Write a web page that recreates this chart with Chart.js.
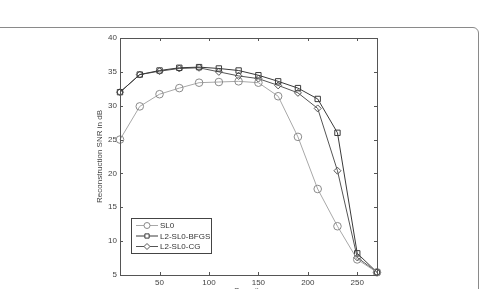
<!DOCTYPE html>
<html>
<head>
<meta charset="utf-8">
<script src="https://cdn.jsdelivr.net/npm/chart.js@4"></script>
<style>
  html, body { margin: 0; padding: 0; background: #fff; overflow: hidden; }
  #wrap { position: relative; width: 481px; height: 289px; overflow: hidden; }
  #card { position: absolute; left: -6px; top: 27px; width: 485px; height: 320px;
          border: 1px solid #8a8a8a; border-radius: 6px; box-sizing: border-box; }
  canvas { position: absolute; left: 0; top: 0; }
</style>
</head>
<body>
<div id="wrap">
  <div id="card"></div>
  <canvas id="chart-area" width="481" height="296"></canvas>
</div>
<script>
// measurement sizes (x axis)
var xValues = [10, 30, 50, 70, 90, 110, 130, 150, 170, 190, 210, 230, 250, 270];
var sl0 =  [25.0, 29.9, 31.7, 32.6, 33.4, 33.5, 33.6, 33.4, 31.4, 25.4, 17.7, 12.2, 7.3, 5.4];
var bfgs = [32.0, 34.6, 35.2, 35.6, 35.7, 35.5, 35.2, 34.5, 33.6, 32.6, 31.0, 26.0, 8.2, 5.4];
var cg =   [32.0, 34.6, 35.1, 35.5, 35.6, 35.0, 34.4, 34.0, 33.0, 31.9, 29.6, 20.4, 7.6, 5.4];
var seriesNames = ['SL0', 'L2-SL0-BFGS', 'L2-SL0-CG'];
var xTicks = [50, 100, 150, 200, 250];
var yTicks = [5, 10, 15, 20, 25, 30, 35, 40];

function pts(ys) {
  return xValues.map(function (x, i) { return { x: x, y: ys[i] }; });
}

var fontFam = '"Liberation Sans", Arial, sans-serif';

// box, inward ticks and the legend inside the plot
var boxPlugin = {
  id: 'boxPlugin',
  afterDraw: function (chart) {
    var ctx = chart.ctx;
    var a = chart.chartArea;
    var xs = chart.scales.x, ys = chart.scales.y;
    ctx.save();
    ctx.strokeStyle = '#555';
    ctx.lineWidth = 1;
    ctx.strokeRect(a.left + 0.5, a.top + 0.5, a.right - a.left, a.bottom - a.top);
    ctx.beginPath();
    xTicks.forEach(function (v) {
      var px = Math.round(xs.getPixelForValue(v)) + 0.5;
      ctx.moveTo(px, a.bottom); ctx.lineTo(px, a.bottom - 3);
      ctx.moveTo(px, a.top); ctx.lineTo(px, a.top + 3);
    });
    yTicks.forEach(function (v) {
      var py = Math.round(ys.getPixelForValue(v)) + 0.5;
      ctx.moveTo(a.left, py); ctx.lineTo(a.left + 3, py);
      ctx.moveTo(a.right, py); ctx.lineTo(a.right - 3, py);
    });
    ctx.stroke();

    // legend
    var lx = 131, ly = 218, lw = 80, lh = 35;
    ctx.fillStyle = '#fff';
    ctx.fillRect(lx, ly, lw, lh);
    ctx.strokeStyle = '#444';
    ctx.strokeRect(lx + 0.5, ly + 0.5, lw, lh);
    ctx.font = '8px ' + fontFam;
    ctx.textBaseline = 'middle';
    chart.data.datasets.forEach(function (ds, i) {
      var y = ly + 7.5 + i * 10.5;
      ctx.strokeStyle = ds.borderColor;
      ctx.beginPath();
      ctx.moveTo(136, y); ctx.lineTo(158, y);
      ctx.stroke();
      ctx.fillStyle = '#fff';
      ctx.strokeStyle = ds.pointBorderColor;
      Chart.helpers.drawPoint(ctx, {
        pointStyle: ds.pointStyle, radius: 3, borderWidth: 1
      }, 147, y);
      ctx.fillStyle = '#333';
      ctx.fillText(ds.label, 160, y + 0.5);
    });
    ctx.restore();
  }
};

var config = {
  type: 'line',
  data: {
    datasets: [{
      label: seriesNames[0],
      data: pts(sl0),
      borderColor: '#a8a8a8',
      pointStyle: 'circle',
      pointRadius: 3.8,
      pointBorderColor: '#8a8a8a',
      pointBackgroundColor: 'rgba(0,0,0,0)',
      borderWidth: 1,
      pointBorderWidth: 1
    }, {
      label: seriesNames[1],
      data: pts(bfgs),
      borderColor: '#3a3a3a',
      pointStyle: 'rect',
      pointRadius: 3.8,
      pointBorderColor: '#3a3a3a',
      pointBackgroundColor: 'rgba(0,0,0,0)',
      borderWidth: 1,
      pointBorderWidth: 1
    }, {
      label: seriesNames[2],
      data: pts(cg),
      borderColor: '#555',
      pointStyle: 'rectRot',
      pointRadius: 3.5,
      pointBorderColor: '#555',
      pointBackgroundColor: 'rgba(0,0,0,0)',
      borderWidth: 1,
      pointBorderWidth: 1
    }]
  },
  options: {
    responsive: false,
    animation: false,
    clip: false,
    layout: { padding: { left: 88, top: 38, right: 104, bottom: 0 } },
    plugins: { legend: { display: false }, tooltip: { enabled: false } },
    scales: {
      x: {
        type: 'linear',
        min: 10,
        max: 270,
        grid: { display: false, drawTicks: false },
        border: { display: false },
        afterBuildTicks: function (s) { s.ticks = xTicks.map(function (v) { return { value: v }; }); },
        afterFit: function (s) { s.height = 21; },
        ticks: { padding: 3, color: '#444', font: { size: 8, family: fontFam }, maxRotation: 0 },
        title: { display: true, text: 'Sparsity', color: '#444', padding: 0, font: { size: 8, family: fontFam } }
      },
      y: {
        min: 5,
        max: 40,
        grid: { display: false, drawTicks: false },
        border: { display: false },
        afterBuildTicks: function (s) { s.ticks = yTicks.map(function (v) { return { value: v }; }); },
        afterFit: function (s) { s.width = 32; },
        ticks: { padding: 3, color: '#444', font: { size: 8, family: fontFam } },
        title: { display: true, text: 'Reconstruction SNR in dB', color: '#444',
                 padding: { top: 7, bottom: 0 }, font: { size: 8, family: fontFam } }
      }
    }
  },
  plugins: [boxPlugin]
};

var ctx = document.getElementById('chart-area').getContext('2d');
window.myChart = new Chart(ctx, config);
</script>
</body>
</html>
